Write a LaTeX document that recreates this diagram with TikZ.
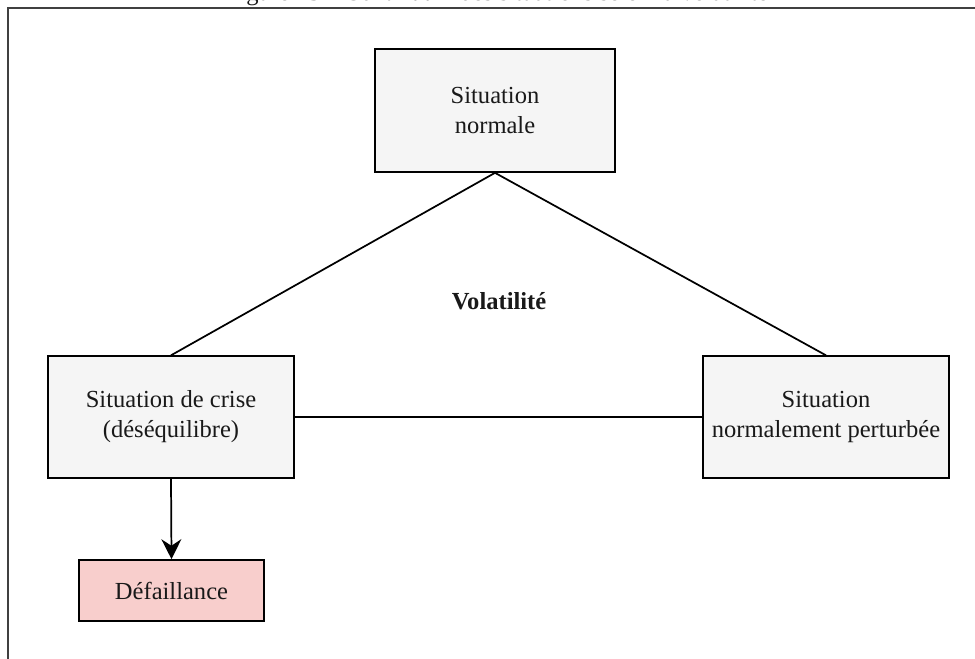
\documentclass[tikz,border=0pt]{standalone}
\usepackage{fontspec}
\setmainfont{Liberation Serif}
\usetikzlibrary{arrows.meta}

\definecolor{boxgray}{HTML}{F5F5F5}
\definecolor{boxpink}{HTML}{F8CECC}
\definecolor{framegray}{HTML}{404040}

\tikzset{
  situation/.style={draw, line width=1.5pt, fill=boxgray, align=center,
    font=\fontsize{18.4}{22.5}\selectfont, text=black!90},
  lien/.style={line width=1.3pt},
}

\begin{document}
\begin{tikzpicture}[x=0.75pt, y=-0.75pt]
            \useasboundingbox (0,0) rectangle (975,659);
            \node[anchor=base, font=\fontsize{18.4}{22.5}\selectfont, text=black!90] (titre) at (497,0.5)
              {Figure 23 -- \textit{Continuum} des situations selon la volatilit\'e};
            \draw[line width=1.6pt, framegray] (8,659) -- (8,8) -- (975,8);

            \node[situation, minimum width=180pt, minimum height=92pt] (normale) at (495,110.5) {Situation\\normale};
            \node[situation, minimum width=184.5pt, minimum height=91pt] (crise) at (171,417) {Situation de crise\\(d\'es\'equilibre)};
            \node[situation, minimum width=184.5pt, minimum height=91pt] (perturbee) at (826,417) {Situation\\normalement perturb\'ee};
            \node[situation, fill=boxpink, minimum width=138.5pt, minimum height=45.5pt] (defaillance) at (171.5,590.5) {D\'efaillance};
            \node[font=\fontsize{18.4}{22.5}\selectfont\bfseries, text=black!90] (volatilite) at (499,301) {Volatilit\'e};

            \draw[lien] (normale.south) -- (crise.north);
            \draw[lien] (normale.south) -- (perturbee.north);
            \draw[lien] (crise.east) -- (perturbee.west);
            \draw[lien, -{Stealth[length=15pt, width=15pt, inset=5pt]}] (crise.south) -- (defaillance.north);

        \end{tikzpicture}
\end{document}
